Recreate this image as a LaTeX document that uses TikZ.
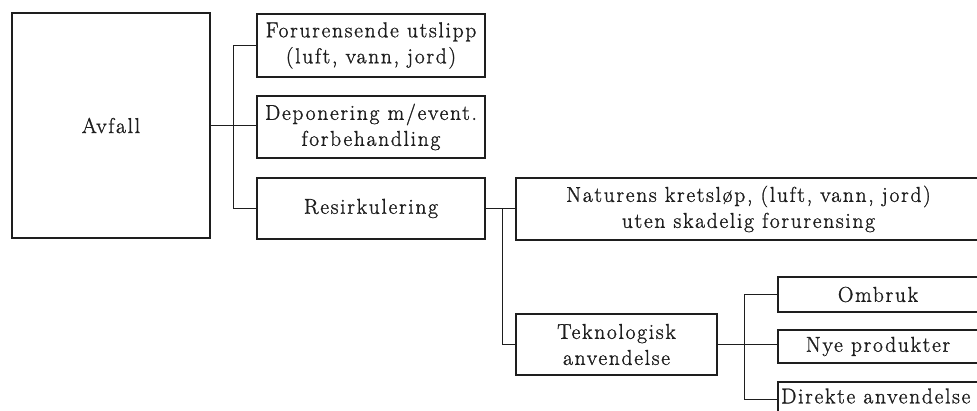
\documentclass[tikz,border=0pt]{standalone}
\usepackage{fontspec}
\setmainfont{Latin Modern Roman}[LetterSpace=8,FakeBold=1.2]
\definecolor{ink}{HTML}{1E1E1E}
\begin{document}
\begin{tikzpicture}[x=1pt,y=-1pt,
  box/.style={draw=ink, line width=1.1pt, inner sep=0pt, align=center, font=\fontsize{21.5}{26}\selectfont, text=ink},
  conn/.style={draw=ink, line width=1pt}]
\useasboundingbox (0,0) rectangle (977,411);
\clip (0,0) rectangle (977,411);
% main boxes
\node[box, minimum width=198pt, minimum height=225pt] (avfall) at (111,125.5) {Avfall};
\node[box, minimum width=228pt, minimum height=63pt] (utslipp) at (371,45.5) {Forurensende utslipp\\(luft, vann, jord)};
\node[box, minimum width=228pt, minimum height=62pt] (depon) at (371,127) {Deponering m/event.\\forbehandling};
\node[box, minimum width=228pt, minimum height=61pt] (resirk) at (371,208.5) {Resirkulering};
\node[box, minimum width=465pt, minimum height=62pt] (natur) at (748.5,209) {Naturens kretsløp, (luft, vann, jord)\\uten skadelig forurensing};
\node[box, minimum width=201pt, minimum height=61pt] (tek) at (616.5,344.5) {Teknologisk\\anvendelse};
\node[box, minimum width=200pt, minimum height=35pt] (ombruk) at (878,294.5) {Ombruk};
\node[box, minimum width=200pt, minimum height=33pt] (nye) at (878,346.5) {Nye produkter};
\node[box, minimum width=200pt, minimum height=34pt] (direkte) at (878,399) {};
\node[inner sep=0pt, anchor=west, font=\fontsize{21.5}{26}\selectfont, text=ink] (direktetxt) at (781,396) {Direkte anvendelse};
% connectors
\coordinate (b1) at (233,0);
\coordinate (b2) at (502,0);
\coordinate (b3) at (744,0);
\draw[conn] (avfall.east) -- (avfall.east -| depon.west);
\draw[conn] (utslipp.west) -- (utslipp.west -| b1) -- (resirk.west -| b1) -- (resirk.west);
\draw[conn] (resirk.east) -- (resirk.east -| natur.west);
\draw[conn] (resirk.east -| b2) |- (tek.west);
\draw[conn] (tek.east) -- (tek.east -| nye.west);
\draw[conn] (ombruk.west) -- (ombruk.west -| b3) -- (direkte.west -| b3) -- (direkte.west);
\end{tikzpicture}
\end{document}
